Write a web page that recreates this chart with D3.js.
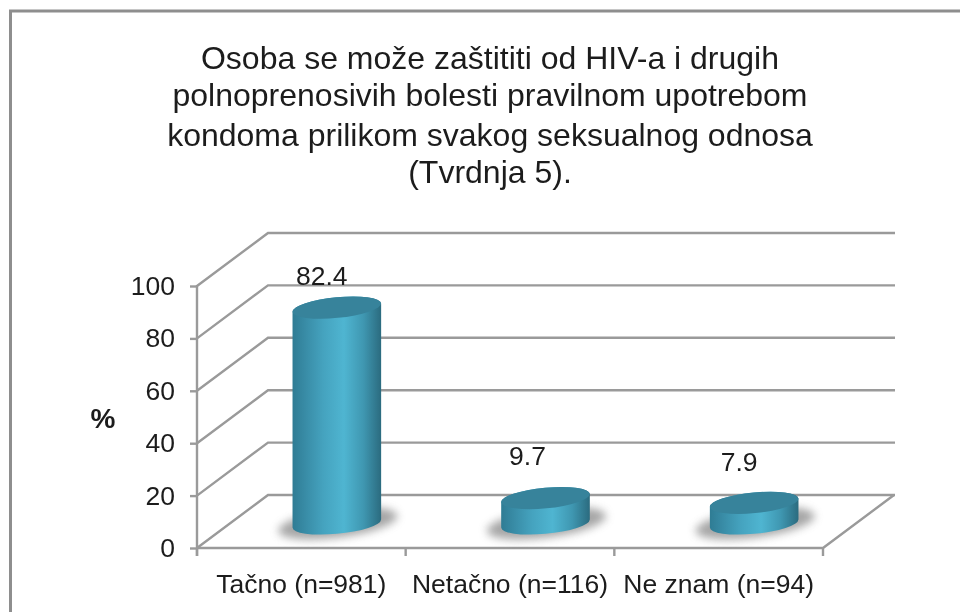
<!DOCTYPE html>
<html><head><meta charset="utf-8">
<script src="https://cdn.jsdelivr.net/npm/d3@7"></script>
<style>html,body{margin:0;padding:0;background:#fff}svg{display:block;filter:blur(0.45px)}text{font-family:"Liberation Sans",Arial,sans-serif;fill:#1c1c1c}</style>
</head><body><svg id="c" width="960" height="612"></svg>
<script>
const titleLines = ["Osoba se može zaštititi od HIV-a i drugih","polnoprenosivih bolesti pravilnom upotrebom","kondoma prilikom svakog seksualnog odnosa","(Tvrdnja 5)."];
const categories = ["Tačno (n=981)","Netačno (n=116)","Ne znam (n=94)"];
const values = [82.4,9.7,7.9];
const valueLabels = ["82.4","9.7","7.9"];
const yTicks = [0,20,40,60,80,100];
const yTitle = "%";

const svg = d3.select("#c");
const depth = {dx:71, dy:-53};
const x = d3.scaleBand().domain(categories).range([197,823]);
const y = d3.scaleLinear().domain([0,100]).range([548,286]);
const grid = "#9a9a9a";
const defs = svg.append("defs");
const grad = defs.append("linearGradient").attr("id","cyl");
[[0,"#2f7c94"],[.12,"#3789a3"],[.35,"#45a3bf"],[.58,"#4fb5d1"],[.8,"#3f97b1"],[1,"#2b6b7f"]]
  .forEach(s=>grad.append("stop").attr("offset",s[0]).attr("stop-color",s[1]));
defs.append("filter").attr("id","blur").attr("x","-30%").attr("y","-60%").attr("width","160%").attr("height","220%")
  .append("feGaussianBlur").attr("stdDeviation",4);

// frame
svg.append("path").attr("d","M10.5,612V11H960").attr("fill","none").attr("stroke","#8e8e8e").attr("stroke-width",3);

// title
svg.append("g").selectAll("text").data(titleLines).join("text")
  .attr("x",490).attr("y",(d,i)=>[69,106,146,183][i]).attr("text-anchor","middle")
  .attr("font-size",32).text(d=>d);

// walls
const gl = svg.append("g").attr("fill","none").attr("stroke",grid).attr("stroke-width",2.4);
gl.selectAll("path.g").data(yTicks).join("path").attr("class","g")
  .attr("d",d=>`M${x.range()[0]},${y(d)}L${x.range()[0]+depth.dx},${y(d)+depth.dy}H${x.range()[1]+depth.dx+1}`);
gl.append("path").attr("d",`M${x.range()[0]},${y(0)}H${x.range()[1]}L${x.range()[1]+depth.dx},${y(0)+depth.dy}`);
gl.append("path").attr("d",`M${x.range()[0]},${y(100)-1}V${y(0)+8}`);

// axes
const yAxis = d3.axisLeft(y).tickValues(yTicks).tickSize(7).tickPadding(15);
const ga = svg.append("g").attr("transform",`translate(${x.range()[0]},0)`).call(yAxis);
ga.select(".domain").remove();
ga.selectAll("line").attr("stroke",grid).attr("stroke-width",2.4);
ga.selectAll("text").attr("font-size",26.5).attr("font-family",null);
const xTicks = x.domain().map(d=>x(d)).concat(x.range()[1]);
svg.append("g").selectAll("line").data(xTicks).join("line")
  .attr("x1",d=>d).attr("x2",d=>d).attr("y1",y(0)).attr("y2",y(0)+8).attr("stroke",grid).attr("stroke-width",2.4);
svg.append("g").selectAll("text").data(categories).join("text")
  .attr("x",d=>x(d)+x.bandwidth()/2).attr("y",593).attr("text-anchor","middle").attr("font-size",26.5).text(d=>d);

svg.append("text").attr("x",103).attr("y",428).attr("text-anchor","middle").attr("font-size",28).attr("font-weight","bold").text(yTitle);

// cylinders
const a=44.5,b=10.3,deg=-5.5,th=deg*Math.PI/180;
const t=Math.atan(-(b/a)*Math.tan(th));
const ex=a*Math.cos(t)*Math.cos(th)-b*Math.sin(t)*Math.sin(th);
const ey=a*Math.cos(t)*Math.sin(th)+b*Math.sin(t)*Math.cos(th);
const bars = svg.append("g").selectAll("g").data(categories).join("g");
const cx = d=>x(d)+x.bandwidth()/2+depth.dx/2;
const base = y(0)+depth.dy/2+2;
const barTop = (d,i)=>base-(y(0)-y(values[i]));
bars.append("ellipse").attr("cx",d=>cx(d)+1).attr("cy",base).attr("rx",60).attr("ry",14)
  .attr("transform",d=>`rotate(${deg-2} ${cx(d)} ${base})`).attr("fill","#808080").attr("opacity",.7).attr("filter","url(#blur)");
bars.append("path").attr("fill","url(#cyl)").attr("d",(d,i)=>{
  const c=cx(d),T=barTop(d,i);
  return `M${c-ex},${T-ey}L${c-ex},${base-ey}A${a},${b} ${deg} 0 0 ${c+ex},${base+ey}L${c+ex},${T+ey}A${a},${b} ${deg} 0 0 ${c-ex},${T-ey}Z`;
});
bars.append("ellipse").attr("cx",d=>cx(d)).attr("cy",barTop).attr("rx",a).attr("ry",b)
  .attr("transform",(d,i)=>`rotate(${deg} ${cx(d)} ${barTop(d,i)})`).attr("fill","#37839b");

// value labels
const labelShift = [[-15,-23],[-18,-33],[-15,-32]];
svg.append("g").selectAll("text").data(valueLabels).join("text")
  .attr("x",(d,i)=>cx(categories[i])+labelShift[i][0])
  .attr("y",(d,i)=>barTop(categories[i],i)+labelShift[i][1])
  .attr("text-anchor","middle").attr("font-size",26.5).text(d=>d);
</script></body></html>
